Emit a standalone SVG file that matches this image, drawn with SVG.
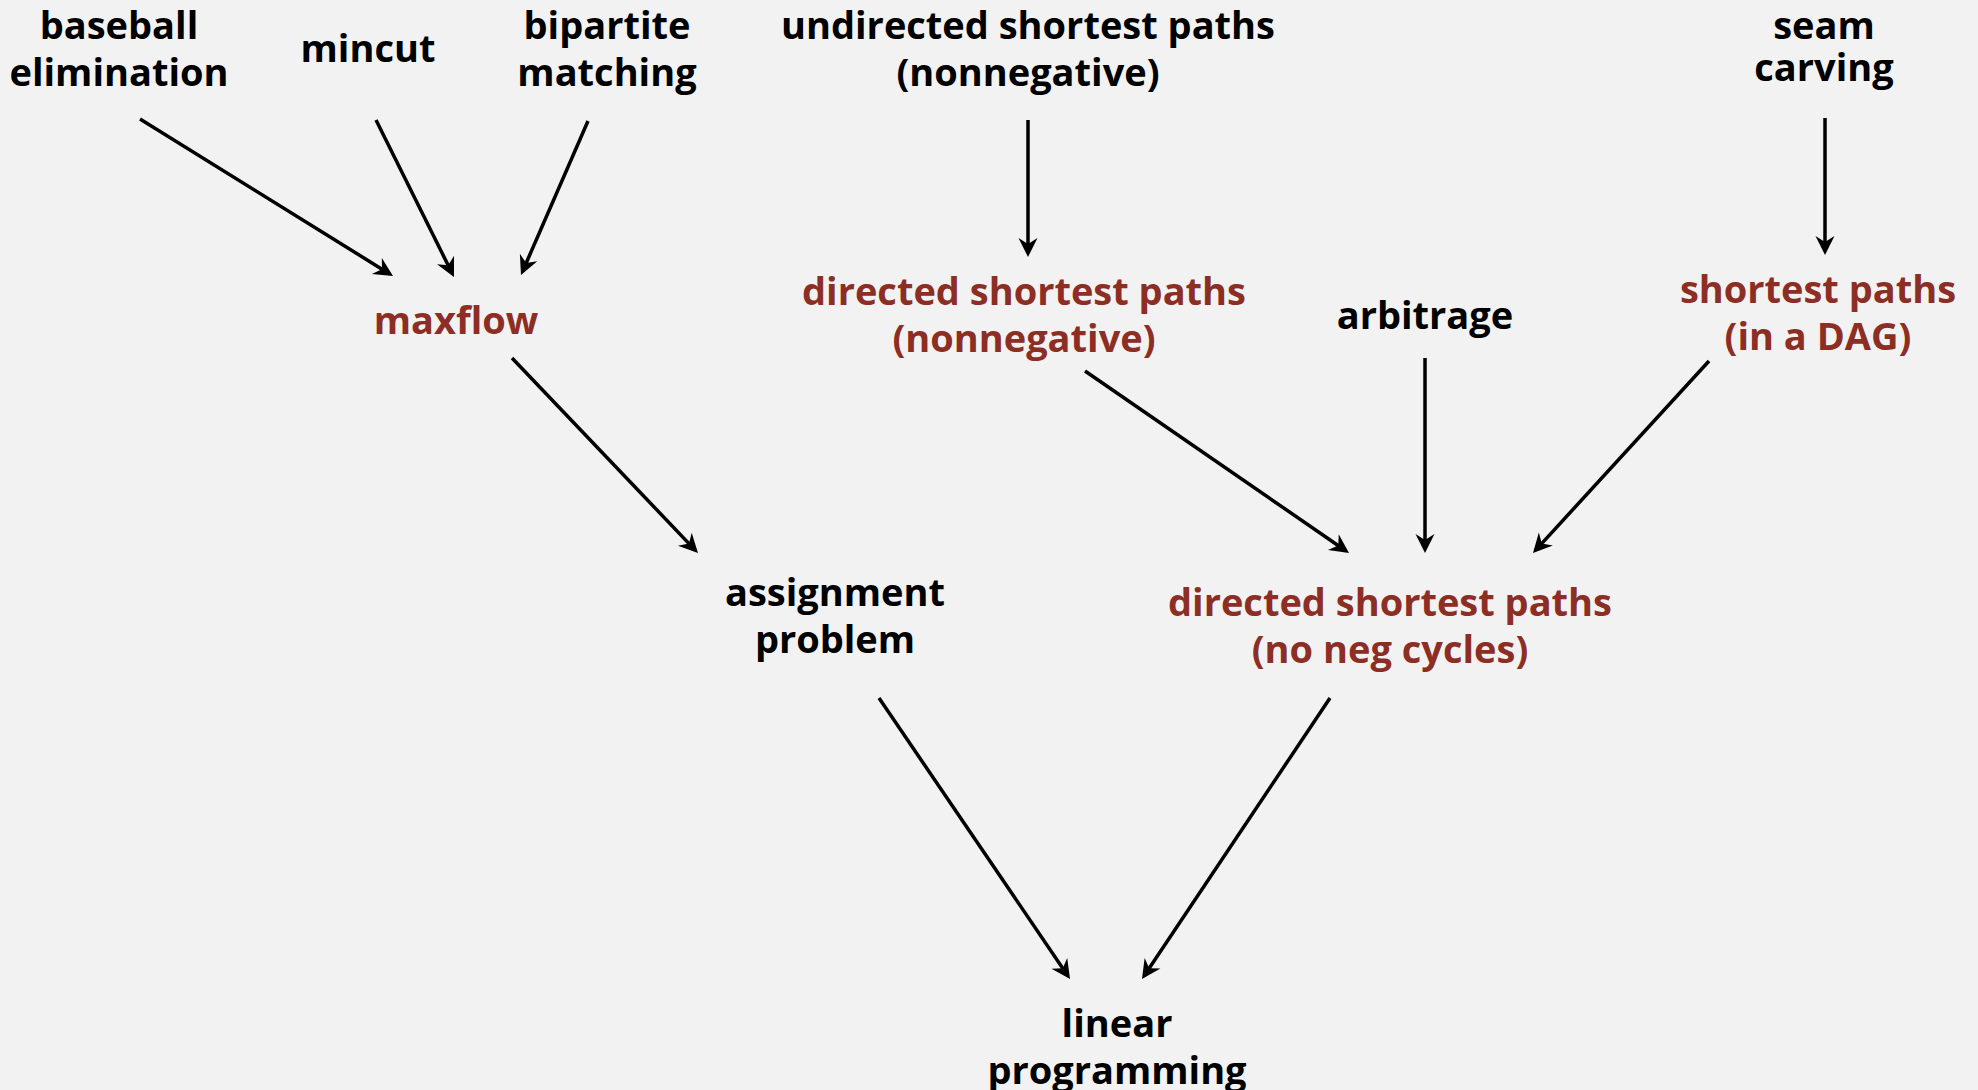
<svg xmlns="http://www.w3.org/2000/svg" width="1978" height="1090" viewBox="0 0 1978 1090">
<style>
  text { font-family: "Open Sans", "Liberation Sans", sans-serif; font-weight: bold; font-size: 38px; text-anchor: middle; }
  .blk { fill: #000; }
  .red { fill: #8c2e24; }
  .edge { stroke: #000; stroke-width: 3.5; fill: none; marker-end: url(#arr); }
</style>
<defs>
  <marker id="arr" markerUnits="userSpaceOnUse" viewBox="-20 -11 22 22" markerWidth="22" markerHeight="22" refX="-4" refY="0" orient="auto">
    <path d="M0,0 L-19,-9.5 L-13,0 L-19,9.5 Z" fill="#000"/>
  </marker>
</defs>
<rect x="0" y="0" width="1978" height="1090" fill="#f2f2f2"/>

<g id="connectors">
  <line class="edge" x1="140" y1="119" x2="389.6" y2="273.9"/>
  <line class="edge" x1="376" y1="120" x2="452.2" y2="273.4"/>
  <line class="edge" x1="588" y1="121" x2="522.6" y2="271.3"/>
  <line class="edge" x1="1028" y1="120" x2="1028" y2="253"/>
  <line class="edge" x1="1825" y1="118" x2="1825" y2="251"/>
  <line class="edge" x1="512" y1="358" x2="695.2" y2="550.1"/>
  <line class="edge" x1="1085" y1="371" x2="1345.7" y2="550.7"/>
  <line class="edge" x1="1425" y1="358" x2="1425" y2="549"/>
  <line class="edge" x1="1709" y1="361" x2="1535.7" y2="550.1"/>
  <line class="edge" x1="879" y1="698" x2="1067.8" y2="975.7"/>
  <line class="edge" x1="1330" y1="698" x2="1144.2" y2="975.7"/>
</g>

<g id="baseball">
  <text class="blk" x="119" y="39">baseball</text>
  <text class="blk" x="119" y="86">elimination</text>
</g>
<g id="mincut">
  <text class="blk" x="368" y="62">mincut</text>
</g>
<g id="bipartite">
  <text class="blk" x="607" y="39">bipartite</text>
  <text class="blk" x="607" y="86">matching</text>
</g>
<g id="undirected">
  <text class="blk" x="1028" y="39">undirected shortest paths</text>
  <text class="blk" x="1028" y="86">(nonnegative)</text>
</g>
<g id="seam">
  <text class="blk" x="1824" y="39">seam</text>
  <text class="blk" x="1824" y="81">carving</text>
</g>
<g id="maxflow">
  <text class="red" x="456" y="334">maxflow</text>
</g>
<g id="dsp-nonneg">
  <text class="red" x="1024" y="305">directed shortest paths</text>
  <text class="red" x="1024" y="352">(nonnegative)</text>
</g>
<g id="arbitrage">
  <text class="blk" x="1425" y="329">arbitrage</text>
</g>
<g id="dag">
  <text class="red" x="1818" y="303">shortest paths</text>
  <text class="red" x="1818" y="350">(in a DAG)</text>
</g>
<g id="assignment">
  <text class="blk" x="835" y="606">assignment</text>
  <text class="blk" x="835" y="653">problem</text>
</g>
<g id="dsp-noneg">
  <text class="red" x="1390" y="616">directed shortest paths</text>
  <text class="red" x="1390" y="663">(no neg cycles)</text>
</g>
<g id="lp">
  <text class="blk" x="1117" y="1037">linear</text>
  <text class="blk" x="1117" y="1084">programming</text>
</g>
</svg>
